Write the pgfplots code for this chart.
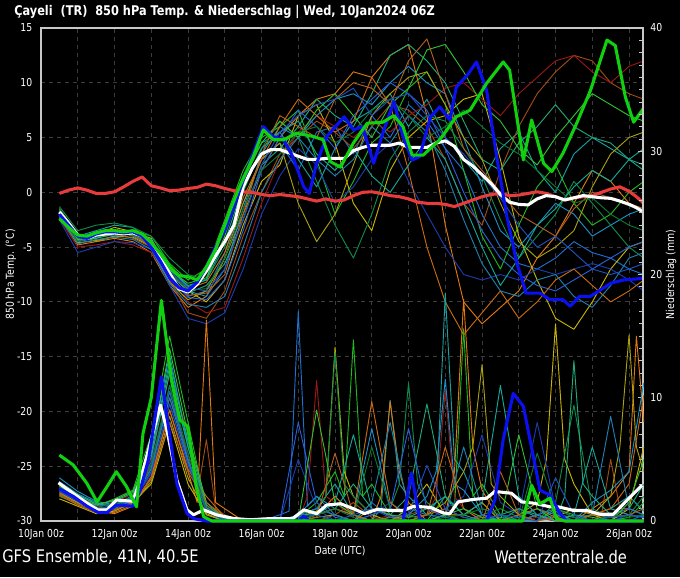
\documentclass[border=0pt]{standalone}
\usepackage{fontspec}
\setmainfont{DejaVu Sans}[FakeStretch=0.85]
\usepackage{pgfplots}
\pgfplotsset{compat=1.18}

% member colours
\definecolor{c1}{HTML}{1F6FD0}
\definecolor{c2}{HTML}{18A0A0}
\definecolor{c3}{HTML}{20B820}
\definecolor{c4}{HTML}{E07810}
\definecolor{c5}{HTML}{A04A14}
\definecolor{c6}{HTML}{C8B400}
\definecolor{c7}{HTML}{9A1818}
\definecolor{c8}{HTML}{1A3CB0}
\definecolor{c9}{HTML}{1A90C8}
\definecolor{c10}{HTML}{0F8A4A}
\definecolor{c11}{HTML}{20A878}
\definecolor{c12}{HTML}{A8A010}
\definecolor{c13}{HTML}{2A60D8}
\definecolor{c14}{HTML}{C86A10}
\definecolor{c15}{HTML}{14A898}
\definecolor{c16}{HTML}{30C030}
\definecolor{c17}{HTML}{1F80B0}
\definecolor{c18}{HTML}{B06020}
\definecolor{c19}{HTML}{0A7A30}
\definecolor{c20}{HTML}{2050C0}
\definecolor{meanred}{HTML}{E83C3C}
\definecolor{opblue}{HTML}{0A10F0}
\definecolor{ctlgreen}{HTML}{10D010}
\definecolor{gridgray}{HTML}{3C3C3C}
\definecolor{framegray}{HTML}{C8C8C8}

\tikzset{lbl/.style={font=\fontsize{8.2}{9}\selectfont, text=white}}
\pgfplotsset{
  ens/.style={line width=0.7pt, line join=round},
  key/.style={line width=2.3pt, line join=round},
}

\begin{document}
\begin{tikzpicture}
\path[use as bounding box, fill=black] (-30.75pt,-42pt) rectangle (479.25pt,390.75pt);

% ---- temperature (left axis) ----
\begin{axis}[
  at={(0pt,0pt)}, anchor=south west,
  scale only axis, width=451.5pt, height=369.75pt,
  xmin=0, xmax=32.76, ymin=-30, ymax=15,
  xtick={0,2,...,32},
  xticklabels={10Jan 00z,,12Jan 00z,,14Jan 00z,,16Jan 00z,,18Jan 00z,,20Jan 00z,,22Jan 00z,,24Jan 00z,,26Jan 00z},
  ytick={-30,-25,...,15},
  xmajorgrids, ymajorgrids,
  major grid style={gridgray, line width=0.6pt, dash pattern=on 3pt off 3pt},
  major tick length=0pt,
  axis line style={framegray, line width=0.8pt},
  ticklabel style={lbl},
  xticklabel style={yshift=-3pt},
  yticklabel style={xshift=-3pt},
  /pgf/number format/assume math mode=true,
  ylabel={850 hPa Temp. (°C)},
  every axis y label/.style={at={(axis description cs:-0.05,0.5)}, rotate=90, anchor=center, lbl},
  xlabel={Date (UTC)},
  every axis x label/.style={at={(axis description cs:0.4967,-0.0609)}, anchor=center, lbl},
]
\addplot[ens,c1] coordinates {(1,-1.5)(2,-4.5)(3,-4.2)(4,-3.5)(5,-4.0)(6,-4.8)(7,-8.0)(8,-9.5)(9,-9.0)(10,-5.5)(11,-1.0)(12,3.0)(13,4.5)(14,2.0)(15,5.5)(16,6.0)(17,3.5)(18,7.0)(19,5.0)(20,8.0)(21,6.5)(22,4.0)(23,2.0)(24,-2.0)(25,-5.0)(26,-6.5)(27,-7.0)(28,-6.0)(29,-4.5)(30,-5.5)(31,-6.0)(32,-7.0)(32.8,-7.5)};
\addplot[ens,c2] coordinates {(1,-2.0)(2,-4.0)(3,-3.5)(4,-3.0)(5,-3.2)(6,-4.5)(7,-7.0)(8,-8.5)(9,-8.0)(10,-3.0)(11,1.5)(12,4.5)(13,5.5)(14,3.0)(15,0.5)(16,4.0)(17,6.5)(18,7.5)(19,9.0)(20,6.0)(21,8.5)(22,5.0)(23,3.0)(24,1.0)(25,4.0)(26,5.5)(27,2.0)(28,0.0)(29,3.5)(30,5.0)(31,4.0)(32,3.0)(32.8,2.5)};
\addplot[ens,c3] coordinates {(1,-1.5)(2,-3.8)(3,-4.5)(4,-4.0)(5,-3.5)(6,-4.0)(7,-6.5)(8,-8.0)(9,-7.0)(10,-2.5)(11,2.0)(12,5.0)(13,6.0)(14,7.5)(15,3.0)(16,-2.0)(17,1.0)(18,4.5)(19,6.0)(20,9.5)(21,11.0)(22,8.0)(23,2.0)(24,-4.0)(25,-7.0)(26,-3.0)(27,0.5)(28,2.5)(29,-1.0)(30,-3.0)(31,-2.0)(32,0.0)(32.8,1.0)};
\addplot[ens,c4] coordinates {(1,-2.2)(2,-4.8)(3,-4.5)(4,-4.2)(5,-4.5)(6,-5.5)(7,-8.5)(8,-10.5)(9,-9.5)(10,-6.0)(11,-2.0)(12,2.0)(13,5.0)(14,7.0)(15,8.5)(16,9.0)(17,11.0)(18,10.5)(19,12.5)(20,13.5)(21,7.0)(22,-3.0)(23,-10.0)(24,-12.0)(25,-10.5)(26,-9.0)(27,-6.0)(28,-4.0)(29,-1.0)(30,2.0)(31,1.0)(32,-1.0)(32.8,-2.0)};
\addplot[ens,c5] coordinates {(1,-1.8)(2,-4.2)(3,-4.0)(4,-3.8)(5,-4.2)(6,-5.0)(7,-8.0)(8,-11.0)(9,-11.5)(10,-9.0)(11,-4.0)(12,0.0)(13,3.5)(14,5.0)(15,6.5)(16,5.5)(17,4.0)(18,6.0)(19,8.0)(20,7.5)(21,6.0)(22,3.0)(23,-1.0)(24,-3.0)(25,2.0)(26,6.0)(27,9.0)(28,11.0)(29,12.5)(30,12.0)(31,10.0)(32,9.0)(32.8,8.5)};
\addplot[ens,c6] coordinates {(1,-2.0)(2,-4.5)(3,-3.8)(4,-3.2)(5,-3.6)(6,-4.2)(7,-7.5)(8,-9.0)(9,-10.0)(10,-8.0)(11,-3.0)(12,1.0)(13,2.5)(14,7.0)(15,8.0)(16,4.5)(17,-1.0)(18,-3.5)(19,2.0)(20,5.0)(21,6.5)(22,7.0)(23,8.5)(24,9.0)(25,3.0)(26,-4.0)(27,-8.0)(28,-11.5)(29,-12.5)(30,-10.0)(31,-7.0)(32,-5.0)(32.8,-4.5)};
\addplot[ens,c7] coordinates {(1,-2.4)(2,-5.0)(3,-4.8)(4,-4.5)(5,-4.8)(6,-5.5)(7,-8.0)(8,-10.0)(9,-11.0)(10,-10.5)(11,-6.0)(12,-1.0)(13,3.0)(14,5.5)(15,7.0)(16,6.0)(17,5.0)(18,6.5)(19,5.5)(20,7.0)(21,8.0)(22,9.5)(23,10.0)(24,8.5)(25,7.0)(26,9.0)(27,10.5)(28,12.0)(29,12.5)(30,11.0)(31,10.0)(32,11.5)(32.8,12.0)};
\addplot[ens,c8] coordinates {(1,-2.5)(2,-5.5)(3,-5.0)(4,-4.5)(5,-4.6)(6,-5.2)(7,-8.5)(8,-11.5)(9,-12.0)(10,-11.0)(11,-7.0)(12,-2.0)(13,1.5)(14,4.0)(15,2.5)(16,-1.0)(17,0.5)(18,3.0)(19,4.5)(20,1.0)(21,-2.0)(22,-5.0)(23,-7.5)(24,-8.0)(25,-7.5)(26,-8.0)(27,-7.0)(28,-7.5)(29,-7.0)(30,-6.5)(31,-7.0)(32,-8.0)(32.8,-9.0)};
\addplot[ens,c9] coordinates {(1,-1.7)(2,-4.2)(3,-3.6)(4,-3.4)(5,-3.6)(6,-4.4)(7,-7.5)(8,-9.0)(9,-9.5)(10,-7.0)(11,-1.5)(12,3.5)(13,6.0)(14,5.0)(15,7.0)(16,8.5)(17,9.0)(18,8.0)(19,10.0)(20,11.5)(21,10.0)(22,9.0)(23,5.0)(24,0.5)(25,-3.5)(26,-5.0)(27,-3.0)(28,-1.0)(29,-2.0)(30,-4.0)(31,-3.0)(32,-2.0)(32.8,-1.5)};
\addplot[ens,c10] coordinates {(1,-1.3)(2,-3.5)(3,-3.0)(4,-2.8)(5,-3.2)(6,-4.0)(7,-6.0)(8,-7.5)(9,-8.0)(10,-5.0)(11,0.0)(12,4.0)(13,6.5)(14,5.0)(15,1.0)(16,-3.0)(17,-6.0)(18,-2.0)(19,3.0)(20,5.5)(21,7.0)(22,6.5)(23,4.0)(24,1.5)(25,-2.5)(26,-6.0)(27,-4.0)(28,-2.0)(29,1.0)(30,-1.0)(31,-3.0)(32,-5.0)(32.8,-6.0)};
\addplot[ens,c11] coordinates {(1,-1.9)(2,-4.3)(3,-4.0)(4,-3.7)(5,-3.9)(6,-4.6)(7,-7.8)(8,-9.2)(9,-8.5)(10,-6.5)(11,-2.5)(12,2.5)(13,4.0)(14,6.0)(15,8.5)(16,7.0)(17,6.0)(18,9.0)(19,12.5)(20,13.5)(21,12.0)(22,10.0)(23,6.5)(24,3.0)(25,2.0)(26,4.5)(27,6.0)(28,8.0)(29,6.0)(30,5.0)(31,4.5)(32,3.0)(32.8,2.0)};
\addplot[ens,c12] coordinates {(1,-2.1)(2,-4.6)(3,-4.4)(4,-4.0)(5,-4.1)(6,-4.9)(7,-8.2)(8,-9.8)(9,-9.0)(10,-6.0)(11,-1.0)(12,3.0)(13,4.5)(14,-1.0)(15,-4.5)(16,-2.0)(17,2.5)(18,7.0)(19,9.0)(20,10.5)(21,11.0)(22,8.0)(23,5.0)(24,3.0)(25,-1.0)(26,-4.5)(27,-6.0)(28,-5.0)(29,-3.5)(30,0.5)(31,3.5)(32,5.0)(32.8,5.5)};
\addplot[ens,c13] coordinates {(1,-2.0)(2,-4.4)(3,-4.1)(4,-3.9)(5,-3.8)(6,-4.7)(7,-7.7)(8,-9.6)(9,-9.8)(10,-8.0)(11,-3.5)(12,2.0)(13,5.0)(14,7.5)(15,6.0)(16,4.0)(17,7.0)(18,8.5)(19,10.0)(20,9.0)(21,7.5)(22,4.0)(23,0.0)(24,-3.5)(25,-6.0)(26,-7.5)(27,-8.5)(28,-9.0)(29,-8.0)(30,-7.0)(31,-6.0)(32,-5.0)(32.8,-4.5)};
\addplot[ens,c14] coordinates {(1,-1.6)(2,-4.0)(3,-3.9)(4,-3.6)(5,-3.9)(6,-4.6)(7,-7.4)(8,-8.8)(9,-8.2)(10,-5.5)(11,-0.5)(12,3.0)(13,6.0)(14,8.5)(15,7.0)(16,5.5)(17,6.5)(18,10.5)(19,8.0)(20,2.0)(21,-5.0)(22,-10.0)(23,-13.0)(24,-11.0)(25,-9.0)(26,-11.5)(27,-10.0)(28,-8.0)(29,-7.0)(30,-8.5)(31,-10.0)(32,-9.0)(32.8,-8.0)};
\addplot[ens,c15] coordinates {(1,-1.9)(2,-4.1)(3,-3.7)(4,-3.5)(5,-3.6)(6,-4.3)(7,-7.0)(8,-8.6)(9,-8.0)(10,-4.5)(11,0.5)(12,4.0)(13,5.5)(14,6.5)(15,3.5)(16,2.0)(17,4.0)(18,1.5)(19,0.0)(20,2.5)(21,5.0)(22,3.0)(23,-1.0)(24,-5.0)(25,-8.5)(26,-6.0)(27,-3.0)(28,-1.5)(29,0.5)(30,2.0)(31,1.0)(32,3.0)(32.8,4.0)};
\addplot[ens,c16] coordinates {(1,-1.8)(2,-4.3)(3,-4.2)(4,-3.8)(5,-3.7)(6,-4.4)(7,-7.1)(8,-8.3)(9,-7.8)(10,-4.0)(11,1.0)(12,4.5)(13,6.5)(14,5.0)(15,7.5)(16,9.0)(17,7.0)(18,5.0)(19,8.0)(20,9.5)(21,13.0)(22,13.5)(23,11.0)(24,8.0)(25,6.5)(26,4.0)(27,2.5)(28,5.0)(29,7.0)(30,9.0)(31,8.0)(32,7.0)(32.8,6.5)};
\addplot[ens,c17] coordinates {(1,-2.3)(2,-4.7)(3,-4.3)(4,-4.1)(5,-4.3)(6,-5.2)(7,-8.3)(8,-10.2)(9,-10.5)(10,-9.5)(11,-5.0)(12,0.0)(13,3.0)(14,5.0)(15,3.0)(16,1.5)(17,3.0)(18,6.0)(19,4.5)(20,7.0)(21,5.5)(22,2.0)(23,-2.5)(24,-6.5)(25,-9.0)(26,-9.5)(27,-8.0)(28,-7.5)(29,-9.5)(30,-10.5)(31,-8.5)(32,-6.0)(32.8,-5.5)};
\addplot[ens,c18] coordinates {(1,-1.7)(2,-4.1)(3,-3.9)(4,-3.5)(5,-3.9)(6,-4.8)(7,-7.6)(8,-9.4)(9,-9.2)(10,-7.5)(11,-2.0)(12,3.5)(13,7.0)(14,6.0)(15,5.0)(16,8.5)(17,10.0)(18,9.5)(19,8.0)(20,12.0)(21,14.0)(22,9.0)(23,4.0)(24,2.0)(25,0.0)(26,-2.0)(27,-3.0)(28,-4.0)(29,-1.5)(30,0.0)(31,-0.5)(32,-1.0)(32.8,-1.5)};
\addplot[ens,c19] coordinates {(1,-2.0)(2,-4.5)(3,-4.0)(4,-3.6)(5,-3.9)(6,-4.5)(7,-7.3)(8,-8.9)(9,-8.8)(10,-6.0)(11,-1.5)(12,2.0)(13,3.5)(14,5.5)(15,6.0)(16,4.5)(17,5.5)(18,7.5)(19,8.5)(20,7.0)(21,5.0)(22,6.0)(23,7.5)(24,6.0)(25,4.5)(26,3.5)(27,2.0)(28,0.5)(29,-1.0)(30,-0.5)(31,-2.0)(32,-3.0)(32.8,-3.5)};
\addplot[ens,c20] coordinates {(1,-1.6)(2,-4.0)(3,-3.8)(4,-3.6)(5,-3.7)(6,-4.5)(7,-7.2)(8,-8.7)(9,-9.0)(10,-7.0)(11,-2.5)(12,2.5)(13,5.5)(14,7.0)(15,8.0)(16,8.5)(17,9.5)(18,7.0)(19,8.5)(20,9.0)(21,7.0)(22,5.0)(23,3.5)(24,1.5)(25,-0.5)(26,-3.0)(27,-5.0)(28,-4.0)(29,-5.5)(30,-7.0)(31,-7.5)(32,-7.0)(32.8,-6.5)};
% climate mean (red)
\addplot[key,meanred] coordinates {(1,-0.1)(1.5,0.2)(2,0.4)(2.5,0.2)(3,-0.1)(3.5,-0.1)(4,0.05)(4.5,0.5)(5,1.0)(5.5,1.4)(6,0.6)(6.5,0.4)(7,0.15)(7.5,0.2)(8,0.35)(8.5,0.45)(9,0.75)(9.5,0.6)(10,0.35)(10.5,0.15)(11,0.05)(11.5,0)(12,-0.2)(12.5,-0.3)(13,-0.2)(13.5,-0.3)(14,-0.4)(14.5,-0.6)(15,-0.8)(15.5,-0.6)(16,-0.8)(16.5,-0.7)(17,-0.3)(17.5,0)(18,0.05)(18.5,-0.1)(19,-0.3)(19.5,-0.4)(20,-0.6)(20.5,-0.9)(21,-1.0)(21.5,-1.0)(22,-1.1)(22.5,-1.3)(23,-1.0)(23.5,-0.7)(24,-0.4)(24.5,-0.2)(25,-0.1)(25.5,-0.3)(26,-0.25)(26.5,-0.1)(27,0.05)(27.5,-0.1)(28,-0.4)(28.5,-0.7)(29,-0.5)(29.5,-0.4)(30,-0.3)(30.5,0)(31,0.3)(31.5,0.5)(32,0.1)(32.4,-0.4)(32.8,-1.0)};
% ensemble mean (white)
\addplot[key,white] coordinates {(1,-1.8)(1.5,-2.8)(2,-3.9)(2.5,-4.2)(3,-3.9)(3.5,-3.8)(4,-3.7)(4.5,-3.8)(5,-3.7)(5.5,-4.0)(6,-4.7)(6.5,-6.0)(7,-7.4)(7.5,-8.8)(8,-9.1)(8.5,-8.4)(9,-7.2)(9.5,-5.8)(10,-4.5)(10.5,-3.0)(11,0.5)(11.5,2.2)(12,3.5)(12.5,3.9)(13,3.9)(13.5,3.6)(14,3.3)(14.5,3.0)(15,3.0)(15.5,3.1)(16,3.1)(16.5,3.1)(17,3.8)(17.5,4.1)(18,4.3)(18.5,4.3)(19,4.3)(19.5,4.5)(20,4.1)(20.5,4.1)(21,4.1)(21.5,4.5)(22,4.7)(22.5,4.2)(23,3.0)(23.5,2.4)(24,1.6)(24.5,0.8)(25,-0.2)(25.5,-0.9)(26,-1.1)(26.5,-1.15)(27,-0.6)(27.5,-0.3)(28,-0.4)(28.5,-0.7)(29,-0.5)(29.5,-0.3)(30,-0.4)(30.5,-0.5)(31,-0.55)(31.5,-0.8)(32,-1.1)(32.4,-1.4)(32.8,-1.8)};
% operational (blue)
\addplot[key,opblue] coordinates {(1,-2.0)(1.5,-3.0)(2,-4.0)(2.5,-4.2)(3,-3.8)(3.5,-3.6)(4,-3.6)(4.5,-3.7)(5,-3.6)(5.5,-4.0)(6,-5.0)(6.5,-6.3)(7,-7.8)(7.5,-8.7)(8,-9.0)(8.5,-8.2)(9,-6.8)(9.5,-5.0)(10,-3.5)(10.3,-2.2)(11.2,2.0)(12.1,6.0)(12.6,5.1)(13.2,4.8)(13.7,3.25)(14.3,0.5)(14.6,-0.1)(15,2.65)(15.55,5.1)(16.5,6.9)(17,5.7)(17.5,6.0)(18.1,2.65)(18.6,5.4)(19.2,8.3)(19.7,5.1)(20.2,2.95)(20.6,3.25)(21.2,6.9)(21.7,7.8)(22.25,6.6)(22.6,9.6)(23.2,10.7)(23.7,11.9)(24.25,9.3)(24.8,3.25)(25.35,-2.2)(25.9,-6.5)(26.4,-9.2)(27.15,-9.2)(27.7,-9.8)(28.4,-9.8)(28.8,-10.4)(29.3,-9.5)(29.9,-9.5)(31,-8.3)(31.7,-8.0)(32.8,-7.85)};
% control (green)
\addplot[key,ctlgreen] coordinates {(1,-2.4)(1.5,-3.2)(2,-3.9)(2.5,-4.0)(3,-3.7)(3.5,-3.5)(4,-3.5)(4.5,-3.6)(5,-3.5)(5.5,-3.8)(6,-4.6)(6.5,-5.6)(7,-6.8)(7.5,-7.6)(8,-7.7)(8.5,-8.0)(9,-6.8)(9.5,-5.2)(10,-3.0)(10.3,-1.6)(10.8,0.5)(11.55,3.25)(12.1,5.7)(12.65,4.8)(13.2,4.8)(13.9,5.4)(14.8,5.1)(15.35,4.8)(15.75,2.8)(16.3,2.3)(17,4.5)(17.75,6.3)(18.6,6.4)(19.2,7.0)(19.7,6.0)(20.2,3.4)(20.8,3.4)(21.7,4.8)(22.6,6.9)(23.35,7.5)(24.25,9.95)(25.15,11.9)(25.5,11.15)(26.25,2.95)(26.7,6.6)(27.35,2.65)(27.8,1.9)(28.4,3.55)(29.15,6.3)(29.9,9.3)(30.8,13.9)(31.25,13.4)(31.8,8.7)(32.25,6.4)(32.8,7.7)};
\end{axis}

% ---- precipitation (right axis) ----
\begin{axis}[
  at={(0pt,0pt)}, anchor=south west,
  scale only axis, width=451.5pt, height=369.75pt,
  xmin=0, xmax=32.76, ymin=0, ymax=40,
  axis x line=none, axis y line*=right,
  ytick={0,10,...,40}, minor ytick={1,...,39},
  tick align=inside, major tick length=4pt, minor tick length=3pt,
  tick style={framegray, line width=0.6pt},
  axis line style={framegray, line width=0.8pt},
  ticklabel style={lbl},
  yticklabel style={xshift=2pt},
  /pgf/number format/assume math mode=true,
  ylabel={Niederschlag (mm)},
  every axis y label/.style={at={(axis description cs:1.0465,0.5)}, rotate=90, anchor=center, lbl},
  clip=false,
]
\addplot[ens,c1] coordinates {(1,2.5)(2,1.8)(3,1.0)(4,1.2)(5,1.5)(6,4.0)(7,11.0)(8,5.0)(9,0.8)(10,0.2)(11,0)(12,0)(13,0.5)(13.5,0.8)(14,17.0)(14.5,1.2)(15,2.0)(16,0.5)(17,0)(18,1.5)(19,0.3)(20,0)(21,0)(22,0.5)(23,0)(24,0)(25,0.3)(26,0)(27,0)(28,0.8)(29,0)(30,0)(31,0.4)(32,0)(32.8,0.5)};
\addplot[ens,c2] coordinates {(1,3.2)(2,2.2)(3,1.5)(4,1.0)(5,2.0)(6,5.5)(7,13.0)(8,6.5)(9,1.5)(10,0.3)(11,0)(12,0)(13,0)(14,0.5)(15,1.0)(16,3.0)(17,0.5)(18,0)(18.5,1.0)(19,9.8)(19.5,3.0)(20,2.0)(21,0.5)(21.5,1.5)(22,18.5)(22.5,5.0)(23,4.0)(24,0.5)(25,0)(26,1.0)(27,0.3)(28,0)(29,0)(30,0.5)(31,1.0)(32,2.0)(32.8,0.8)};
\addplot[ens,c3] coordinates {(1,2.8)(2,2.0)(3,1.2)(4,1.8)(5,2.5)(6,7.0)(7,15.0)(8,8.0)(9,1.0)(10,0)(11,0)(12,0)(13,0)(14,0.3)(15,1.5)(16,4.0)(16.5,2.0)(17,14.7)(17.5,2.0)(18,3.0)(19,0.5)(20,0)(21,0)(22,2.0)(22.5,1.0)(23,15.6)(23.5,2.0)(24,3.0)(25,0.5)(26,0)(27,0)(28,1.0)(29,0.5)(30,0)(31,0)(32,0.3)(32.8,1.5)};
\addplot[ens,c4] coordinates {(1,2.2)(2,1.5)(3,0.8)(4,0.6)(5,1.2)(6,3.5)(7,9.0)(8,4.0)(8.5,1.5)(9,16.3)(9.5,1.5)(10,1.0)(11,0)(12,0)(13,0)(14,0)(15,0.5)(16,2.0)(17,0.5)(18,0)(18.5,2.0)(19,9.7)(19.5,4.0)(20,1.5)(21,0)(22,0.5)(22.5,4.0)(23,18.0)(23.5,6.0)(24,2.5)(25,0)(26,0)(27,0.5)(28,0)(29,0)(30,1.0)(31,2.0)(32,4.0)(32.4,15.0)(32.8,8.0)};
\addplot[ens,c5] coordinates {(1,2.6)(2,1.7)(3,1.1)(4,1.0)(5,1.8)(6,4.5)(7,10.0)(8,5.5)(8.5,2.0)(9,6.6)(9.5,1.0)(10,0.5)(11,0)(12,0)(13,0)(14,0)(15,0)(16,0.5)(17,1.5)(18,0.3)(19,0)(20,0.5)(21,1.0)(22,0.5)(23,0)(24,0.3)(25,0)(26,0)(27,0.5)(28,1.0)(29,0.3)(30,0)(30.5,0.5)(31,5.0)(31.5,1.0)(32,1.0)(32.8,0.5)};
\addplot[ens,c6] coordinates {(1,1.8)(2,1.2)(3,0.6)(4,0.8)(5,1.5)(6,3.0)(7,8.0)(8,3.0)(9,0.5)(10,0)(11,0)(12,0)(13,0)(14,0.3)(15,0.8)(15.5,2.0)(16,14.1)(16.5,4.0)(17,2.0)(18,0.5)(19,0)(20,1.0)(21,3.0)(22,0.5)(23,0.5)(24,1.5)(25,0)(26,0.5)(27,1.5)(27.5,5.0)(28,16.0)(28.5,5.0)(29,3.0)(30,0.5)(31,0)(32,1.0)(32.8,6.0)};
\addplot[ens,c7] coordinates {(1,3.0)(2,2.0)(3,1.3)(4,1.5)(5,2.2)(6,5.0)(7,12.0)(8,7.0)(9,1.2)(10,0.2)(11,0)(12,0)(13,0)(14,0)(14.5,2.0)(15,11.4)(15.5,2.0)(16,1.5)(17,0.3)(18,0)(19,0.5)(20,0)(21,0.5)(21.5,2.0)(22,10.6)(22.5,2.0)(23,1.0)(24,0)(25,0)(26,0)(27,0.3)(28,0)(29,0)(30,0.5)(31,1.0)(32,0.5)(32.8,0.3)};
\addplot[ens,c8] coordinates {(1,2.4)(2,1.6)(3,0.9)(4,1.1)(5,1.6)(6,3.8)(7,9.5)(8,4.5)(9,0.8)(10,0)(11,0)(12,0)(13,0)(14,5.0)(15,1.0)(16,0)(17,0)(18,0.5)(19,1.5)(20,0.5)(21,0)(22,1.0)(23,2.0)(24,7.0)(25,1.5)(26,0.5)(27,8.0)(28,1.0)(29,0.3)(30,0)(31,0)(32,0.5)(32.8,0.3)};
\addplot[ens,c9] coordinates {(1,3.5)(2,2.4)(3,1.6)(4,1.3)(5,2.0)(6,6.0)(7,13.5)(8,6.0)(9,1.0)(10,0.3)(11,0)(12,0)(13,0)(14,0.5)(15,2.0)(16,1.0)(17,0.5)(18,7.5)(19,1.0)(20,0.5)(21,2.0)(21.5,4.0)(22,11.5)(22.5,3.0)(23,2.5)(24,0.5)(25,0)(26,0.3)(27,1.0)(28,0.5)(29,0)(30,1.5)(31,2.5)(32,4.0)(32.8,11.2)};
\addplot[ens,c10] coordinates {(1,2.0)(2,1.4)(3,0.8)(4,1.3)(5,1.8)(6,4.2)(7,10.5)(8,5.0)(9,1.0)(10,0)(11,0)(12,0)(13,0)(14,0.3)(15,1.0)(15.5,2.0)(16,13.7)(16.5,3.0)(17,2.0)(18,0.5)(19,1.0)(19.5,3.0)(20,11.2)(20.5,3.0)(21,1.5)(22,0.5)(23,0)(24,0.5)(25,1.0)(26,0.3)(27,0)(28,1.5)(29,9.4)(30,1.0)(31,0.3)(32,0.5)(32.8,2.0)};
\addplot[ens,c11] coordinates {(1,3.0)(2,2.1)(3,1.4)(4,1.6)(5,2.3)(6,5.5)(7,12.5)(8,6.5)(9,1.3)(10,0.2)(11,0)(12,0)(13,0)(14,0)(15,0.5)(16,1.0)(17,3.0)(18,1.0)(19,0.5)(20,2.0)(21,9.5)(22,2.0)(23,0.5)(24,0)(25,0.5)(26,1.0)(27,0.5)(28,0)(28.5,2.0)(29,13.0)(29.5,3.0)(30,2.0)(31,0.5)(32,1.0)(32.8,3.0)};
\addplot[ens,c12] coordinates {(1,2.3)(2,1.5)(3,0.7)(4,0.9)(5,1.4)(6,3.2)(7,8.5)(8,3.5)(9,0.6)(10,0)(11,0)(12,0)(13,0)(14,0)(15,0.3)(16,0.5)(17,0)(18,1.0)(19,0.5)(20,0)(21,0.5)(22,1.5)(23,4.0)(23.5,6.0)(24,12.7)(24.5,3.0)(25,2.0)(26,0.5)(27,0)(28,0.3)(29,1.0)(30,0.5)(31,2.0)(31.5,6.0)(32,15.1)(32.4,6.0)(32.8,4.0)};
\addplot[ens,c13] coordinates {(1,2.7)(2,1.9)(3,1.2)(4,1.4)(5,1.9)(6,4.8)(7,10.5)(8,5.0)(9,0.9)(10,0.1)(11,0)(12,0)(13,0)(14,8.0)(15,1.5)(16,0.3)(17,0)(18,0.5)(19,1.0)(20,7.5)(21,1.0)(22,0.3)(23,0)(24,0.5)(25,0.3)(26,0)(27,0)(28,0.5)(29,0.3)(30,0)(31,0.5)(32,1.0)(32.8,0.5)};
\addplot[ens,c14] coordinates {(1,2.1)(2,1.3)(3,0.7)(4,0.7)(5,1.3)(6,3.6)(7,9.0)(8,4.2)(9,2.0)(10,0.3)(11,0)(12,0)(13,0)(14,0)(15,0.5)(16,1.0)(17,0.5)(18,9.7)(19,1.5)(20,0.3)(21,0.5)(22,6.0)(23,1.0)(24,0)(25,0)(26,0.5)(27,1.0)(28,0.3)(29,0)(30,0.5)(31,1.0)(32,3.0)(32.8,10.2)};
\addplot[ens,c15] coordinates {(1,3.1)(2,2.1)(3,1.4)(4,1.2)(5,2.1)(6,5.2)(7,12.0)(8,6.0)(9,1.1)(10,0)(11,0)(12,0)(13,0)(14,0.5)(15,0.5)(16,1.5)(17,7.0)(18,1.0)(19,0.5)(20,0.3)(21,1.0)(22,2.0)(23,0.5)(24,1.5)(25,11.0)(26,2.0)(27,0.5)(28,0)(29,0.5)(30,6.0)(31,1.0)(32,0.5)(32.8,0.3)};
\addplot[ens,c16] coordinates {(1,2.9)(2,1.9)(3,1.3)(4,1.7)(5,2.4)(6,6.0)(7,14.0)(8,7.0)(9,1.5)(10,0.2)(11,0)(12,0)(13,0)(14,0)(15,9.0)(16,1.5)(17,0.5)(18,0)(19,0.3)(20,0.5)(21,0)(22,0.5)(23,1.0)(24,0.3)(25,0)(26,7.0)(27,1.0)(28,0)(29,0.5)(30,0.3)(31,0)(32,1.5)(32.8,5.0)};
\addplot[ens,c17] coordinates {(1,2.5)(2,1.7)(3,1.0)(4,1.0)(5,1.7)(6,4.3)(7,10.0)(8,4.8)(9,0.9)(10,0.2)(11,0)(12,0)(13,0)(14,0.5)(15,1.0)(16,0.5)(17,0)(18,1.5)(19,8.0)(20,1.0)(21,0.5)(22,0.3)(23,6.0)(24,1.0)(25,0.5)(26,0)(27,0.5)(28,1.0)(29,0.3)(30,0.5)(31,8.5)(32,1.0)(32.8,0.5)};
\addplot[ens,c18] coordinates {(1,2.2)(2,1.4)(3,0.9)(4,0.9)(5,1.5)(6,3.4)(7,8.0)(8,4.0)(9,1.5)(10,0.3)(11,0)(12,0)(13,0)(14,0)(15,0.3)(16,5.5)(17,0.5)(18,0)(19,0.3)(20,0)(21,0.5)(22,1.0)(23,0.3)(24,0)(25,4.0)(26,0.5)(27,0)(28,0.3)(29,0)(30,0.5)(31,0.3)(32,0.5)(32.8,1.0)};
\addplot[ens,c19] coordinates {(1,2.6)(2,1.8)(3,1.1)(4,1.4)(5,2.0)(6,4.6)(7,11.0)(8,5.5)(9,1.0)(10,0)(11,0)(12,0)(13,0)(14,0)(15,0.5)(16,1.0)(17,0.3)(18,6.0)(19,1.0)(20,0.5)(21,0)(22,0.3)(23,0.5)(24,1.0)(25,0.5)(26,0)(27,5.5)(28,1.0)(29,0.3)(30,0)(31,0.5)(32,0.3)(32.8,0.5)};
\addplot[ens,c20] coordinates {(1,2.4)(2,1.6)(3,1.0)(4,1.2)(5,1.7)(6,4.0)(7,9.5)(8,4.6)(9,0.8)(10,0)(11,0)(12,0)(13,0)(14,0.3)(15,0.5)(16,0)(17,0.5)(18,1.0)(19,0.3)(20,0.5)(21,4.5)(22,1.0)(23,0.3)(24,0)(25,0.5)(26,0.3)(27,0)(28,3.5)(29,0.5)(30,0)(31,0.3)(32,0.5)(32.8,0.3)};
% ensemble mean precipitation (white)
\addplot[key,white] coordinates {(0.95,3.1)(1.75,2.25)(2.5,1.45)(3.1,0.9)(3.6,0.9)(4.1,1.7)(5,1.6)(5.4,3.3)(5.85,5.8)(6.5,9.4)(6.85,7.4)(7.4,3.3)(7.95,0.9)(8.3,0.5)(8.85,0.9)(9.55,0.5)(10.5,0.2)(11.4,0.1)(12.5,0.2)(13.7,0.2)(14.3,0.9)(15,0.6)(15.55,1.3)(16.3,1.4)(17,1.0)(17.6,0.6)(18.3,0.95)(19,0.85)(19.7,0.85)(20.3,1.2)(21.2,1.1)(21.9,0.65)(22.25,0.6)(22.7,1.55)(23.5,1.75)(24.25,1.85)(24.7,2.4)(25.6,2.25)(26.15,1.55)(26.8,1.45)(27.7,1.15)(28.15,1.15)(29,0.85)(29.7,0.85)(30.4,0.55)(31.15,0.55)(31.9,1.7)(32.7,2.9)};
% operational precipitation (blue)
\addplot[key,opblue] coordinates {(1,2.6)(1.75,2.0)(2.5,1.2)(3.1,0.7)(3.6,0.7)(4.1,1.3)(5,1.2)(5.4,2.5)(5.85,5.0)(6.55,11.7)(6.9,8.0)(7.4,3.0)(7.95,0.6)(8.3,0.2)(9,0)(14,0)(14.3,0.4)(14.6,0)(19.7,0)(20.15,3.9)(20.6,0.2)(21,0)(24.25,0)(24.7,1.7)(25.15,6.6)(25.7,10.35)(26.25,9.3)(26.8,5.2)(27.15,2.5)(27.7,2.1)(28.25,0.6)(28.6,0)(32.8,0)};
% control precipitation (green)
\addplot[key,ctlgreen] coordinates {(1,5.35)(1.75,4.55)(2.5,3.05)(3.05,1.55)(3.6,2.8)(4.1,4.0)(4.65,2.8)(5.2,1.15)(5.55,7.1)(6.0,10.0)(6.55,17.9)(7.1,11.4)(7.55,8.2)(8.0,7.65)(8.45,2.8)(8.85,0.35)(9.3,0)(26.2,0)(26.7,2.9)(27.15,1.4)(27.7,1.85)(28.05,0.2)(28.5,0)(32.8,0)};
\end{axis}

\node[anchor=west, inner sep=0pt, text=white, font=\bfseries\fontsize{10}{12}\selectfont] at (-20.25pt,381.75pt) {Çayeli\ \ (TR)\ \ 850 hPa Temp. \& Niederschlag | Wed, 10Jan2024 06Z};
\node[anchor=west, inner sep=0pt, text=white, font=\fontsize{13}{15}\selectfont] at (-29.25pt,-27pt) {GFS Ensemble, 41N, 40.5E};
\node[anchor=west, inner sep=0pt, text=white, font=\fontsize{13}{15}\selectfont] at (339.75pt,-27pt) {Wetterzentrale.de};
\end{tikzpicture}
\end{document}
